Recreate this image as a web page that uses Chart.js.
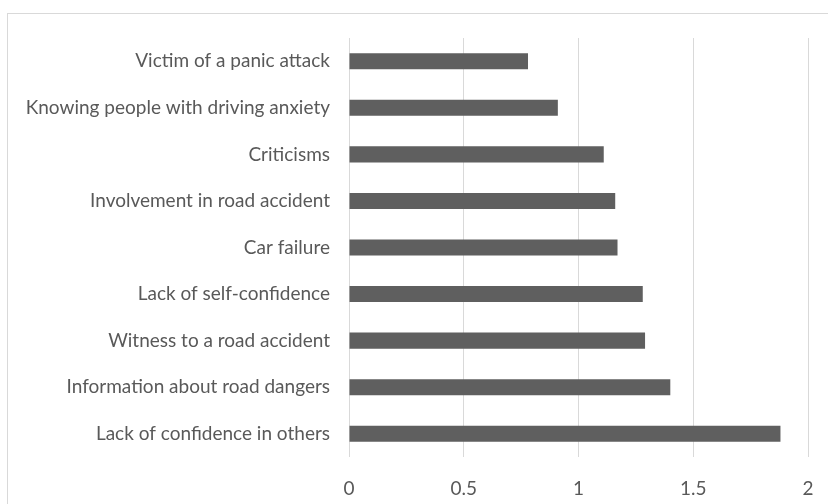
<!DOCTYPE html>
<html>
<head>
<meta charset="utf-8">
<script src="https://cdn.jsdelivr.net/npm/chart.js@4"></script>
<style>
  body { margin: 0; background: #fff; }
  #frame { position: absolute; left: 7px; top: 13px; width: 820px; height: 490px; border: 1px solid #d9d9d9; }
  #wrap { position: absolute; left: 0; top: 0; width: 828px; height: 504px; }
</style>
</head>
<body>
<div id="frame"></div>
<div id="wrap"><canvas id="causes"></canvas></div>
<script>
// categories, top to bottom
const causes = [
    'Victim of a panic attack',
    'Knowing people with driving anxiety',
    'Criticisms',
    'Involvement in road accident',
    'Car failure',
    'Lack of self-confidence',
    'Witness to a road accident',
    'Information about road dangers',
    'Lack of confidence in others'
];
const scores = [0.78, 0.91, 1.11, 1.16, 1.17, 1.28, 1.29, 1.40, 1.88];
const xTicks = [0, 0.5, 1, 1.5, 2];

const textColor = '#595959';
const gridColor = '#d9d9d9';
const labelFont = { family: 'Lato', size: 19 };

const ctx = document.getElementById("causes").getContext("2d");
let causesChart = new Chart(ctx, {
    type: 'bar',
    data: {
        labels: causes,
        datasets: [{
            data: scores,
            backgroundColor: '#5f5f5f',
            borderWidth: 0,
            categoryPercentage: 1,
            barPercentage: 0.345
        }]
    },
    options: {
        indexAxis: 'y',
        responsive: true,
        maintainAspectRatio: false,
        animation: false,
        layout: { padding: { left: 0, right: 20, top: 38, bottom: 0 } },
        plugins: { legend: { display: false }, tooltip: { enabled: false } },
        scales: {
            x: {
                min: 0,
                max: 2,
                afterBuildTicks: (scale) => { scale.ticks = xTicks.map(v => ({ value: v })); },
                afterFit: (scale) => {
                    scale.height = 47;
                    scale.paddingLeft = 0;
                    scale.paddingRight = 0;
                },
                grid: { color: gridColor, lineWidth: 1, drawTicks: false },
                border: { display: false },
                ticks: {
                    color: textColor,
                    padding: 20,
                    font: labelFont,
                    callback: (v) => String(v)
                }
            },
            y: {
                afterFit: (scale) => { scale.width = 349; },
                grid: { display: false, drawTicks: false },
                border: { display: false },
                ticks: {
                    color: textColor,
                    padding: 19,
                    font: labelFont
                }
            }
        }
    }
});
</script>
</body>
</html>
